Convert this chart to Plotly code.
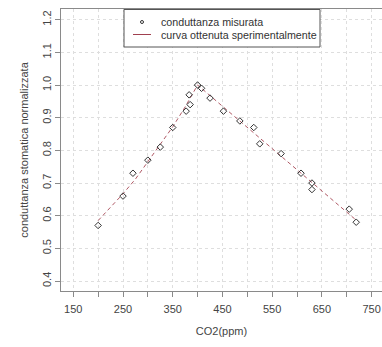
import plotly.graph_objects as go

# measured data
co2 = [200, 250, 270, 300, 325, 350, 377, 383, 385, 400, 408, 425, 452, 485, 513, 525, 568, 608, 630, 630, 705, 719]
cond = [0.57, 0.66, 0.73, 0.77, 0.81, 0.87, 0.92, 0.97, 0.94, 1.00, 0.99, 0.96, 0.92, 0.89, 0.87, 0.82, 0.79, 0.73, 0.70, 0.68, 0.62, 0.58]

curve_x = [200, 225, 250, 275, 300, 325, 350, 375, 400, 720]
curve_y = [0.585, 0.625, 0.667, 0.712, 0.765, 0.817, 0.872, 0.933, 1.0, 0.585]

x_ticks = [150, 200, 250, 300, 350, 400, 450, 500, 550, 600, 650, 700, 750]
x_labels = ["150", "", "250", "", "350", "", "450", "", "550", "", "650", "", "750"]
y_ticks = [0.4, 0.5, 0.6, 0.7, 0.8, 0.9, 1.0, 1.1, 1.2]
y_labels = ["0.4", "0.5", "0.6", "0.7", "0.8", "0.9", "1.0", "1.1", "1.2"]

name_pts = "conduttanza misurata"
name_curve = "curva ottenuta sperimentalmente"

fig = go.Figure()
fig.add_trace(go.Scatter(x=curve_x, y=curve_y, mode="lines", name=name_curve,
                         line=dict(color="#b05a66", width=1, dash="4px,3px"),
                         showlegend=False, hoverinfo="skip"))
fig.add_trace(go.Scatter(x=co2, y=cond, mode="markers", name=name_pts,
                         marker=dict(symbol="diamond-open", size=5, color="#333333",
                                     line=dict(width=1, color="#333333")),
                         showlegend=False))

axis_common = dict(showline=True, mirror=True, linecolor="#8a8a8a", linewidth=1,
                   ticks="outside", ticklen=5, tickcolor="#8a8a8a",
                   showgrid=True, gridcolor="#dedede", griddash="dot", gridwidth=1,
                   zeroline=False, automargin=False,
                   tickfont=dict(size=11, color="#444444"))

fig.update_xaxes(range=[125.3, 770.9], tickmode="array", tickvals=x_ticks, ticktext=x_labels,
                 ticklabelstandoff=3,
                 title=dict(text="CO2(ppm)", font=dict(size=11, color="#444444"), standoff=13),
                 **axis_common)
fig.update_yaxes(range=[0.3694, 1.2328], tickmode="array", tickvals=y_ticks, ticktext=y_labels,
                 tickangle=-90,
                 title=dict(text="conduttanza stomatica normalizzata", font=dict(size=11, color="#444444"), standoff=9),
                 **axis_common)

# legend box drawn in plot-area (paper) coordinates
PL, PT, PW, PH = 61, 9, 321, 282
def px(x):
    return (x - PL) / PW
def py(y):
    return 1 - (y - PT) / PH

shapes = [
    dict(type="rect", xref="paper", yref="paper", x0=px(124), x1=px(320), y0=py(47), y1=py(9.5),
         line=dict(color="#555555", width=1), fillcolor="white", layer="above"),
    dict(type="circle", xref="paper", yref="paper", x0=px(140.5), x1=px(143.5), y0=py(23.5), y1=py(20.5),
         line=dict(color="#333333", width=1), layer="above"),
    dict(type="line", xref="paper", yref="paper", x0=px(133), x1=px(151), y0=py(34.5), y1=py(34.5),
         line=dict(color="#a0404f", width=1), layer="above"),
]
annotations = [
    dict(text=name_pts, xref="paper", yref="paper", x=px(159), y=py(22), xanchor="left", yanchor="middle",
         showarrow=False, font=dict(size=10.7, color="#333333")),
    dict(text=name_curve, xref="paper", yref="paper", x=px(159), y=py(34.5), xanchor="left", yanchor="middle",
         showarrow=False, font=dict(size=10.7, color="#333333")),
]

fig.update_layout(
    width=382, height=347,
    margin=dict(l=PL, r=0, t=PT, b=347 - PT - PH),
    plot_bgcolor="white", paper_bgcolor="white",
    font=dict(family="Liberation Sans, Arial, sans-serif", size=11, color="#444444"),
    showlegend=False,
    shapes=shapes, annotations=annotations,
)

fig.write_html("out.html", config={"displayModeBar": False},
               post_script="document.body.style.margin='0';")
